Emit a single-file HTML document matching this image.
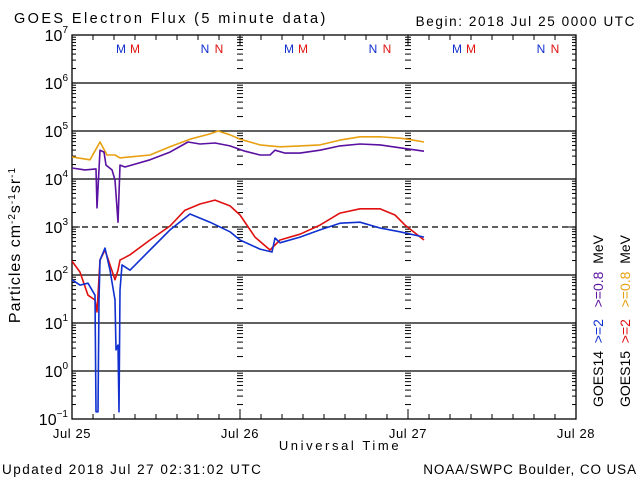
<!DOCTYPE html>
<html><head><meta charset="utf-8"><style>
body{margin:0;background:#fff}
svg{display:block;font-family:"Liberation Sans",sans-serif}
</style></head><body>
<svg id="chart" width="640" height="480" viewBox="0 0 640 480">
<text x="14" y="23" font-size="14.5" letter-spacing="2.4">GOES Electron Flux (5 minute data)</text>
<text x="636" y="26" font-size="13.5" text-anchor="end" letter-spacing="1.6">Begin: 2018 Jul 25 0000 UTC</text>
<text x="340" y="450" font-size="13" text-anchor="middle" letter-spacing="2.6">Universal Time</text>
<text x="2" y="474" font-size="13.5" letter-spacing="1.5">Updated 2018 Jul 27 02:31:02 UTC</text>
<text x="637" y="474" font-size="13.5" text-anchor="end" letter-spacing="0.9">NOAA/SWPC Boulder, CO USA</text>
<text transform="translate(20,245) rotate(-90)" font-size="16" text-anchor="middle" letter-spacing="1">Particles cm<tspan baseline-shift="super" font-size="10">-2</tspan>s<tspan baseline-shift="super" font-size="10">-1</tspan>sr<tspan baseline-shift="super" font-size="10">-1</tspan></text>
<g font-size="14">
<text transform="translate(603,407) rotate(-90)">GOES14 <tspan fill="#1030d0">&#160;&gt;=2</tspan><tspan fill="#5a10a0">&#160;&#160;&#160;&gt;=0.8</tspan><tspan>&#160;&#160;MeV</tspan></text>
<text transform="translate(630,407) rotate(-90)">GOES15 <tspan fill="#e01010">&#160;&gt;=2</tspan><tspan fill="#e8a010">&#160;&#160;&#160;&gt;=0.8</tspan><tspan>&#160;&#160;MeV</tspan></text>
</g>
<g id="axes"></g>
<g id="marks"></g>
</svg>
<script>
const dayLabels=["Jul 25","Jul 26","Jul 27","Jul 28"];
const decadeExps=[-1,0,1,2,3,4,5,6,7];
const orangeH=[0,2.57,4.0,5.0,6.14,6.86,8.29,11.14,14.0,16.86,19.71,20.86,22.57,24,26.86,29.71,32.57,35.43,38.29,41.14,44,46.86,48,50.29];
const orangeL=[4.46,4.40,4.77,4.50,4.50,4.44,4.46,4.50,4.67,4.83,4.94,5.0,4.92,4.83,4.71,4.67,4.69,4.71,4.81,4.88,4.88,4.85,4.83,4.77];
const purpleH=[0,1.86,3.43,3.57,4.0,4.57,4.86,5.71,6.14,6.57,6.86,7.57,9.0,11.14,14.0,16.57,18.29,20.43,22.57,24.71,26.86,28.29,29.0,30.43,32.57,35.43,38.29,41.14,44,46.86,50.29];
const purpleL=[4.23,4.19,4.21,3.40,4.60,4.56,4.29,4.19,3.98,3.10,4.29,4.25,4.31,4.40,4.56,4.77,4.73,4.75,4.69,4.58,4.50,4.50,4.60,4.54,4.54,4.60,4.69,4.73,4.71,4.65,4.58];
const redH=[0,1.14,2.29,3.29,3.57,4.0,4.71,5.43,6.14,6.57,6.86,8.29,11.14,14.0,16.14,18.29,20.43,22.57,24,26.14,28.29,29.71,32.57,35.43,38.29,41.14,44,46.14,47.57,50.29];
const redL=[2.29,2.06,1.58,1.48,1.23,2.31,2.52,2.21,1.90,2.10,2.31,2.42,2.73,3.02,3.35,3.48,3.56,3.44,3.25,2.79,2.52,2.73,2.85,3.04,3.29,3.38,3.38,3.25,3.04,2.73];
const blueH=[0,1.14,2.29,3.29,3.43,3.71,3.86,4.0,4.71,5.43,6.14,6.29,6.57,6.71,6.86,7.14,8.29,11.14,14.0,16.86,19.71,22.57,24,26.86,28.57,29.0,29.71,32.57,35.43,38.29,41.14,44,46.86,50.29];
const blueL=[1.90,1.79,1.83,1.58,-0.85,-0.85,1.48,2.31,2.56,2.10,1.48,0.44,0.54,-0.85,1.69,2.21,2.10,2.52,2.94,3.27,3.10,2.90,2.73,2.54,2.48,2.77,2.67,2.79,2.94,3.08,3.10,2.98,2.90,2.79];

const X0=72,X1=576,Y0=35,Y1=419;
const xs=h=>X0+(X1-X0)*h/72;
const ys=l=>Y0+(7-l)*(Y1-Y0)/8;
const NS="http://www.w3.org/2000/svg";
const ax=document.getElementById('axes'),mk=document.getElementById('marks');
function el(t,a,p){const e=document.createElementNS(NS,t);for(const k in a)e.setAttribute(k,a[k]);p.appendChild(e);return e;}
decadeExps.forEach(e=>{
  if(e===-1||e===7)return;
  const g=el('line',{x1:X0,x2:X1,y1:ys(e),y2:ys(e),stroke:'#000','stroke-width':1.3},ax);
  
  
  if(e===3)g.setAttribute('stroke-dasharray','6,4');
});
const tickXs=[X0,X1,xs(24),xs(48)];
decadeExps.forEach(e=>{
  if(e===7)return;
  for(let m=1;m<=9;m++){
    const y=ys(e+Math.log10(m));
    tickXs.forEach((x,i)=>{
      const len=m===1?8:4;
      let a;
      if(i===0)a={x1:x,x2:x+len};
      else if(i===1)a={x1:x-len,x2:x};
      else a={x1:x-3,x2:x+3};
      const t=el('line',Object.assign(a,{y1:y,y2:y,stroke:'#000','stroke-width':1}),ax);
      
      
    });
  }
});
for(let h=0;h<=72;h+=3){
  const x=xs(h),len=h%24===0?10:5;
  [[Y1,Y1-len],[Y0,Y0+len]].forEach(p=>{
    const t=el('line',{x1:x,x2:x,y1:p[0],y2:p[1],stroke:'#000','stroke-width':1},ax);
    
    
  });
}
const fr=el('rect',{x:X0,y:Y0,width:X1-X0,height:Y1-Y0,fill:'none',stroke:'#000','stroke-width':1.3},ax);


decadeExps.forEach(e=>{
  const t=el('text',{x:X0-4,y:ys(e)+6,'font-size':16,'text-anchor':'end'},ax);
  
  
  t.textContent='10';
  const s=el('tspan',{dy:-8,'font-size':10},t);s.textContent=String(e).replace('-','\u2212');
});
dayLabels.forEach((d,i)=>{
  const t=el('text',{x:xs(i*24),y:438,'font-size':13,'text-anchor':'middle','letter-spacing':0.6},ax);
  
  
  t.textContent=d;
});
const mnLetters=["M","N"],mnHours=[7.0,19.0];
for(let d=0;d<3;d++)mnLetters.forEach((L,j)=>{
  [['#1030d0',0],['#e01010',2]].forEach(c=>{
    const t=el('text',{x:xs(d*24+mnHours[j]+c[1]),y:53,'font-size':12,fill:c[0],'text-anchor':'middle'},ax);
    
    
    t.textContent=L;
  });
});
function series(H,L,color,name){
  const p=el('polyline',{points:H.map((h,i)=>xs(h).toFixed(1)+','+ys(L[i]).toFixed(1)).join(' '),fill:'none',stroke:color,'stroke-width':1.6,'stroke-linejoin':'round'},mk);
  
  
}
series(orangeH,orangeL,'#e8a010','goes15-0.8mev-line');
series(purpleH,purpleL,'#5a10a0','goes14-0.8mev-line');
series(redH,redL,'#e01010','goes15-2mev-line');
series(blueH,blueL,'#1030d0','goes14-2mev-line');
</script>
</body></html>
